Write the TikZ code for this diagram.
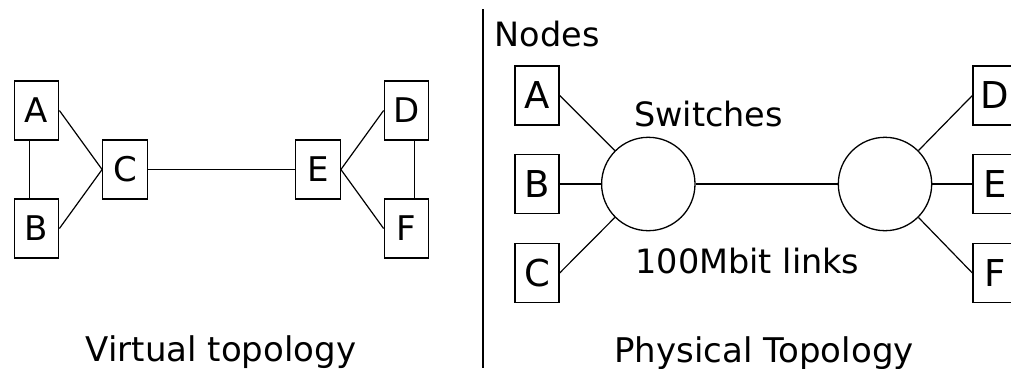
\documentclass[tikz,border=0pt]{standalone}
\usepackage{fontspec}
\setmainfont{DejaVu Sans}
\begin{document}
\begin{tikzpicture}[x=1pt,y=-1pt,
  vbox/.style={draw,line width=1.3pt,inner sep=0pt,minimum width=44.5pt,minimum height=59pt,font=\fontsize{34}{34}\selectfont},
  pbox/.style={draw,line width=1.3pt,inner sep=0pt,minimum width=44pt,minimum height=59pt,font=\fontsize{37}{37}\selectfont},
  switch/.style={draw,circle,line width=1.3pt,inner sep=0pt,minimum size=93.4pt},
  lbl/.style={inner sep=0pt,anchor=base,font=\fontsize{33.5}{33.5}\selectfont},
  biglbl/.style={lbl,font=\fontsize{34}{34}\selectfont},
  link/.style={line width=1.2pt}]
\useasboundingbox (0,0) rectangle (1011,368);
% Virtual topology
\node[vbox] (vA) at (36.5,110.5) {A};
\node[vbox] (vB) at (36.5,228.5) {B};
\node[vbox] (vC) at (125,169.5) {C};
\node[vbox] (vE) at (318,169.5) {E};
\node[vbox] (vD) at (406.5,110.5) {D};
\node[vbox] (vF) at (406.5,228.5) {F};
\draw[link] ([xshift=-7pt]vA.south) -- ([xshift=-7pt]vB.north);
\draw[link] ([xshift=8pt]vD.south) -- ([xshift=8pt]vF.north);
\draw[link] (vA.east) -- (vC.west);
\draw[link] (vB.east) -- (vC.west);
\draw[link] (vC.east) -- (vE.west);
\draw[link] (vE.east) -- (vD.west);
\draw[link] (vE.east) -- (vF.west);
\node[biglbl] (vt) at (221,361.5) {Virtual topology};
% separator
\coordinate (septop) at (483,9);
\coordinate (sepbot) at (483,368);
\draw[link] (septop) -- (sepbot);
% Physical topology
\node[lbl] (nodes) at (547,46.5) {Nodes};
\node[pbox] (pA) at (537,95.5) {A};
\node[pbox] (pB) at (537,184) {B};
\node[pbox] (pC) at (537,273) {C};
\node[pbox] (pD) at (995,95.5) {D};
\node[pbox] (pE) at (995,184) {E};
\node[pbox] (pF) at (995,273) {F};
\node[switch] (s1) at (648.3,184) {};
\node[switch] (s2) at (885,184) {};
\draw[link] (pA.east) -- (s1.135);
\draw[link] (pB.east) -- (s1.west);
\draw[link] (pC.east) -- (s1.225);
\draw[link] (s1.east) -- (s2.west);
\draw[link] (s2.45) -- (pD.west);
\draw[link] (s2.east) -- (pE.west);
\draw[link] (s2.-45) -- (pF.west);
\node[lbl] (sw) at (708.5,126) {Switches};
\node[lbl] (links) at (747.5,273) {100Mbit links};
\node[biglbl] (pt) at (764,362) {Physical Topology};
\end{tikzpicture}
\end{document}
